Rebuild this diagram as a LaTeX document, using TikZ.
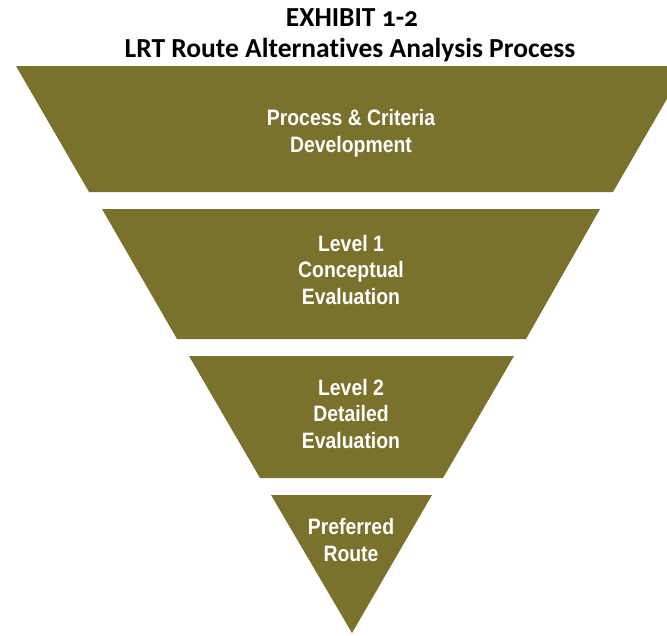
\documentclass[tikz,border=0pt]{standalone}
\usepackage{fontspec}
\setmainfont{Liberation Sans}
\newfontfamily\stagefont[FakeStretch=0.87]{Liberation Sans}
\newfontfamily\titlefont[Numbers=OldStyle,Ligatures=NoCommon]{Carlito}
\definecolor{funnel}{RGB}{122,113,44}

\begin{document}
\begin{tikzpicture}[x=1pt,y=-1pt]
\tikzstyle{level}=[fill=funnel]
\tikzstyle{stagetext}=[text=white,align=center,font=\stagefont\bfseries\fontsize{22.3}{26.5}\selectfont]
\tikzstyle{heading}=[text=black,font=\titlefont\bfseries\fontsize{27.5}{30}\selectfont]
\useasboundingbox (0,0) rectangle (667,635);
\clip (0,0) rectangle (667,635);
% title
\node[heading] (EX) at (352,18) {EXHIBIT 1-2};
\node[heading] (TI) at (350,50) {LRT Route Alternatives Analysis Process};
% funnel levels
\fill[level] (16,66) -- (686,66) -- (613,192) -- (89,192) -- cycle;
\fill[level] (102,209) -- (600,209) -- (526,339) -- (177,339) -- cycle;
\fill[level] (189,356) -- (514,356) -- (443,478) -- (260,478) -- cycle;
\fill[level] (271,495) -- (432,495) -- (352,633) -- cycle;
\node[stagetext] (PC) at (351,133) {Process \& Criteria\\Development};
\node[stagetext] (L1) at (351,270) {Level 1\\Conceptual\\Evaluation};
\node[stagetext] (L2) at (351,414) {Level 2\\Detailed\\Evaluation};
\node[stagetext] (PR) at (351,540) {Preferred\\Route};
\end{tikzpicture}
\end{document}
